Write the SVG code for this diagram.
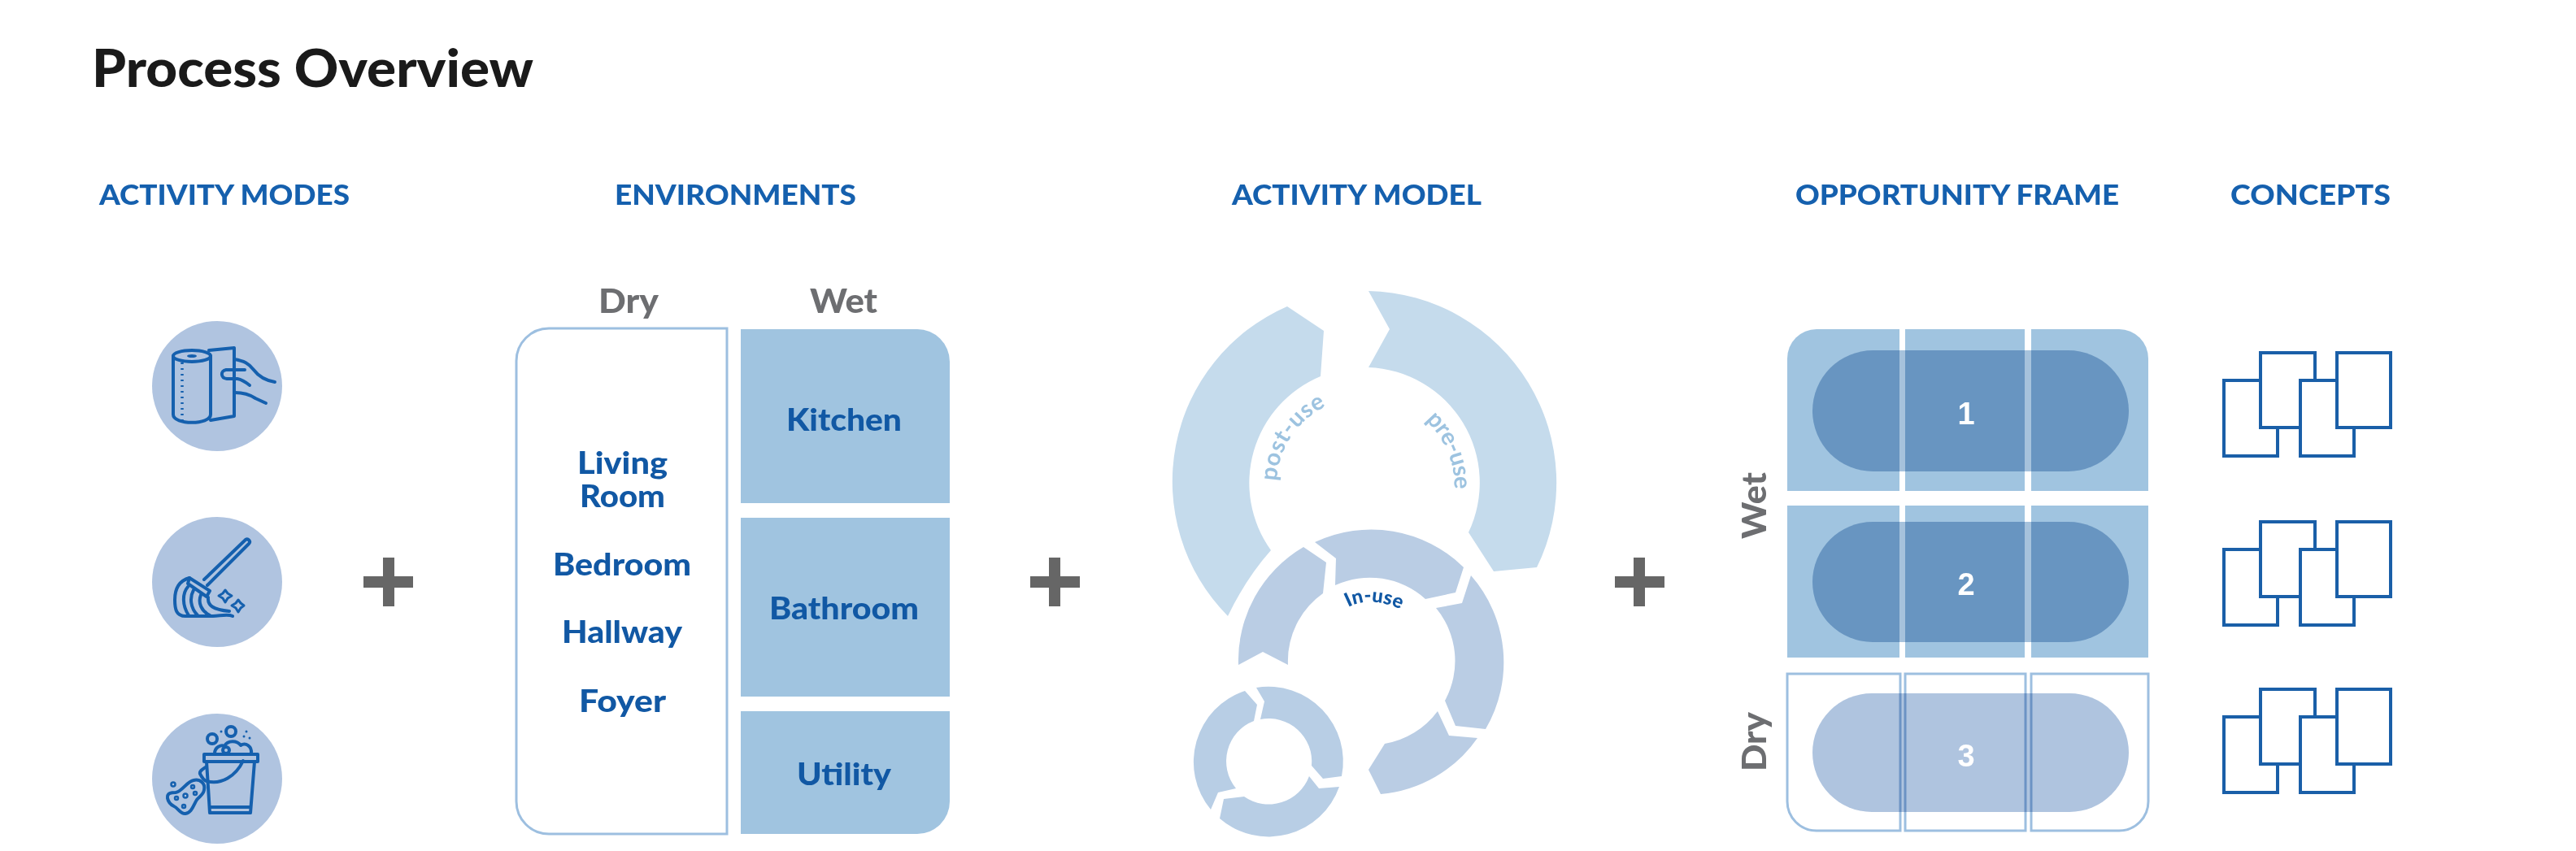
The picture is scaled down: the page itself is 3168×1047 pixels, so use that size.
<svg xmlns="http://www.w3.org/2000/svg" width="3168" height="1047" viewBox="0 0 3168 1047">
<style>
text{font-family:"Lato","Open Sans","Liberation Sans",sans-serif;font-weight:900}
.title{font-size:65px;fill:#1a1a1a}
.hd{font-size:35px;fill:#1560ae}
.gr{font-size:41px;fill:#6d6e71}
.lb{font-size:38px;fill:#1158a4}
.num{font-size:38px;fill:#fff;text-anchor:middle;font-family:"Liberation Sans",sans-serif;font-weight:700}
.dot{fill:#b0c4e0}
.ic{fill:none;stroke:#1560ae;stroke-width:4;stroke-linecap:round;stroke-linejoin:round}
.thin{stroke-width:2.5}
.icf{fill:#1560ae}
.plus{fill:#666}
.wet{fill:#a0c4e0}
.dry{fill:#fff;stroke:#9dbfe0;stroke-width:3}
.pill{fill:#afc4df;mix-blend-mode:multiply}
.pillw{fill:#a6c2dc;mix-blend-mode:multiply}
.big{fill:#c5dbec}
.mid{fill:#bacde4}
.sm{fill:#b8cee5}
.cp{fill:#fff;stroke:#1a5fa8;stroke-width:4}
</style>
<defs>
<g id="concept">
<rect class="cp" x="2735" y="468" width="66" height="93"/>
<rect class="cp" x="2780" y="434" width="67" height="92"/>
<rect class="cp" x="2829" y="468" width="66" height="93"/>
<rect class="cp" x="2874" y="434" width="66" height="92"/>
</g>
<path id="p-post" d="M1570,592 A108,108 0 0 1 1678,489"/>
<path id="p-pre" d="M1753,517 A110,110 0 0 1 1788,610"/>
<path id="p-in" d="M1658,747 Q1686,732 1728,752"/>
</defs>

<g id="title"><text class="title" x="113" y="107" textLength="543" lengthAdjust="spacingAndGlyphs">Process Overview</text></g>

<g id="headers">
<text class="hd" x="122" y="252" textLength="308" lengthAdjust="spacingAndGlyphs">ACTIVITY MODES</text>
<text class="hd" x="756" y="252" textLength="297" lengthAdjust="spacingAndGlyphs">ENVIRONMENTS</text>
<text class="hd" x="1515" y="252" textLength="307" lengthAdjust="spacingAndGlyphs">ACTIVITY MODEL</text>
<text class="hd" x="2208" y="252" textLength="398" lengthAdjust="spacingAndGlyphs">OPPORTUNITY FRAME</text>
<text class="hd" x="2743" y="252" textLength="197" lengthAdjust="spacingAndGlyphs">CONCEPTS</text>
</g>

<g id="mode-wipe">
<circle class="dot" cx="267" cy="475" r="80"/>
<ellipse class="ic" cx="236" cy="438" rx="23" ry="7"/>
<ellipse class="icf" cx="236" cy="438" rx="6" ry="2"/>
<path class="ic" d="M213,438V510C213,523 259,523 259,510V438"/>
<path class="ic" d="M257,431L288,428V512L259,517"/>
<path class="ic" stroke-dasharray="2 5" d="M224,446V518" style="stroke-width:3.5;stroke-linecap:butt"/>
<path class="ic" d="M288,442C300,444 306,447 312,455C318,463 326,468 338,470"/>
<path class="ic" d="M301,455H278C271,456 271,465 279,466H292C298,467 302,470 307,474"/>
<path class="ic" d="M289,483C300,483 308,486 314,490L327,496"/>
</g>

<g id="mode-mop">
<circle class="dot" cx="267" cy="716" r="80"/>
<path class="ic" d="M251,713L302,664C305,662 309,666 306,669L255,720"/>
<path class="ic" d="M233,711L258,727L254,734L231,718Z"/>
<path class="ic" d="M233,711C222,714 215,722 215,738C215,750 217,758 228,758H262C270,758 280,755 286,758"/>
<path class="ic" d="M231,722C224,730 224,745 232,757M238,726C233,735 234,748 243,757M247,732C243,742 248,752 258,757M256,735C255,745 262,750 282,752"/>
<path class="ic" style="stroke-width:3" d="M277,726L280,730L285,733L280,736L277,741L274,736L269,733L274,730Z"/>
<path class="ic" style="stroke-width:3" d="M293,738L296,742L300,745L296,748L293,753L290,748L285,745L290,742Z"/>
</g>

<g id="mode-bucket">
<circle class="dot" cx="267" cy="958" r="80"/>
<path class="ic" d="M251,928H317V937H251Z"/>
<path class="ic" d="M254,937L258,1000H308L313,937"/>
<path class="ic" d="M258,993H308"/>
<path class="ic" d="M254,943C250,946 245,948 246,952C248,956 250,960 254,961C272,966 290,955 299,936"/>
<path class="ic" d="M264,927C264,919 272,916 276,918C280,910 292,911 296,917C302,913 310,918 309,927"/>
<circle class="ic" cx="261" cy="909" r="6"/>
<circle class="ic" cx="284" cy="900" r="6"/>
<circle class="ic" cx="278" cy="923" r="4"/>
<circle class="icf" cx="272" cy="900" r="1.5"/><circle class="icf" cx="303" cy="900" r="1.5"/><circle class="icf" cx="300" cy="906" r="1.5"/><circle class="icf" cx="307" cy="908" r="1.5"/>
<path class="ic" d="M206,982C205,975 212,975 216,975C224,974 229,962 238,960C246,958 253,964 251,972C250,978 245,980 242,984C238,990 236,1000 228,1001C222,1002 219,994 214,992C210,990 207,987 206,982Z"/>
<circle class="ic thin" cx="213" cy="965" r="2.5"/>
<circle class="ic thin" cx="228" cy="979" r="2.5"/><circle class="ic thin" cx="237" cy="968" r="2"/><circle class="ic thin" cx="240" cy="976" r="2"/><circle class="ic thin" cx="217" cy="982" r="2"/><circle class="ic thin" cx="226" cy="992" r="2"/>
</g>

<g id="plus-1"><path class="plus" d="M471,686H485V709H508V723H485V746H471V723H447V709H471Z"/></g>
<g id="plus-2"><path class="plus" d="M1290,686H1304V709H1328V723H1304V746H1290V723H1267V709H1290Z"/></g>
<g id="plus-3"><path class="plus" d="M2009,686H2023V709H2047V723H2023V746H2009V723H1986V709H2009Z"/></g>

<g id="env-dry">
<text class="gr" x="736" y="385" textLength="74" lengthAdjust="spacingAndGlyphs">Dry</text>
<path class="dry" d="M894,404V1026H675A40,40 0 0 1 635,986V444A40,40 0 0 1 675,404Z"/>
<text class="lb" x="710" y="583" textLength="111" lengthAdjust="spacingAndGlyphs">Living</text>
<text class="lb" x="713" y="624" textLength="105" lengthAdjust="spacingAndGlyphs">Room</text>
<text class="lb" x="680" y="708" textLength="170" lengthAdjust="spacingAndGlyphs">Bedroom</text>
<text class="lb" x="691" y="791" textLength="148" lengthAdjust="spacingAndGlyphs">Hallway</text>
<text class="lb" x="712" y="876" textLength="107" lengthAdjust="spacingAndGlyphs">Foyer</text>
</g>
<g id="env-wet">
<text class="gr" x="996" y="385" textLength="83" lengthAdjust="spacingAndGlyphs">Wet</text>
<path class="wet" d="M911,405H1128A40,40 0 0 1 1168,445V619H911Z"/>
<rect class="wet" x="911" y="637" width="257" height="220"/>
<path class="wet" d="M911,875H1168V986A40,40 0 0 1 1128,1026H911Z"/>
<text class="lb" x="967" y="530" textLength="142" lengthAdjust="spacingAndGlyphs">Kitchen</text>
<text class="lb" x="946" y="762" textLength="184" lengthAdjust="spacingAndGlyphs">Bathroom</text>
<text class="lb" x="980" y="966" textLength="116" lengthAdjust="spacingAndGlyphs">Utility</text>
</g>

<g id="model-large">
<path class="big" d="M1583,377L1628,407L1624,463A142,142 0 0 0 1563,677Q1532,712 1510,758A235,235 0 0 1 1583,377Z"/>
<path class="big" d="M1683,358A236,236 0 0 1 1890,698L1837,703L1806,655A142,142 0 0 0 1683,452L1709,405Z"/>
<text font-size="29" fill="#9dc3e0" letter-spacing="0.5" style="font-weight:700"><textPath href="#p-post">post-use</textPath></text>
<text font-size="29" fill="#9dc3e0" letter-spacing="-0.5" style="font-weight:700"><textPath href="#p-pre">pre-use</textPath></text>
</g>
<g id="model-medium">
<path class="mid" d="M1617,667A162,162 0 0 1 1800,698L1790,729L1753,737A102,102 0 0 0 1642,720L1643,687Z"/>
<path class="mid" d="M1603,673L1631,692L1627,730A102,102 0 0 0 1584,818L1553,802L1523,818A162,162 0 0 1 1603,673Z"/>
<path class="mid" d="M1809,708A162,162 0 0 1 1827,897L1790,893L1777,862A102,102 0 0 0 1766,748L1798,742Z"/>
<path class="mid" d="M1768,875L1782,905L1817,908A162,162 0 0 1 1698,977L1683,947L1703,915A102,102 0 0 0 1768,875Z"/>
<text font-size="24" fill="#1158a4"><textPath href="#p-in">In-use</textPath></text>
</g>
<g id="model-small">
<path class="sm" d="M1545,846A92,92 0 0 1 1650,955L1627,958L1613,942A53,53 0 0 0 1550,885L1555,863Z"/>
<path class="sm" d="M1531,850L1546,867L1542,887A53,53 0 0 0 1520,970L1498,975L1489,996A92,92 0 0 1 1531,850Z"/>
<path class="sm" d="M1610,955L1622,970L1647,968A92,92 0 0 1 1500,1007L1505,983L1530,980A53,53 0 0 0 1610,955Z"/>
</g>

<g id="frame-wet">
<text class="gr" transform="translate(2172,663) rotate(-90)" textLength="82" lengthAdjust="spacingAndGlyphs">Wet</text>
<path class="wet" d="M2198,441A36,36 0 0 1 2234,405H2336V604H2198Z"/>
<rect class="wet" x="2343" y="405" width="147" height="199"/>
<path class="wet" d="M2498,405H2606A36,36 0 0 1 2642,441V604H2498Z"/>
<rect class="wet" x="2198" y="622" width="138" height="187"/>
<rect class="wet" x="2343" y="622" width="147" height="187"/>
<rect class="wet" x="2498" y="622" width="144" height="187"/>
<rect class="pillw" x="2229" y="431" width="389" height="149" rx="74.5"/>
<rect class="pillw" x="2229" y="642" width="389" height="148" rx="74"/>
<text class="num" x="2418" y="522">1</text>
<text class="num" x="2418" y="732">2</text>
</g>
<g id="frame-dry">
<text class="gr" transform="translate(2172,949) rotate(-90)" textLength="73" lengthAdjust="spacingAndGlyphs">Dry</text>
<path class="dry" d="M2198,829H2337V1022H2234A36,36 0 0 1 2198,986Z"/>
<rect class="dry" x="2343" y="829" width="148" height="193"/>
<path class="dry" d="M2498,829H2642V986A36,36 0 0 1 2606,1022H2498Z"/>
<rect class="pill" x="2229" y="853" width="389" height="146" rx="73"/>
<text class="num" x="2418" y="943">3</text>
</g>

<g id="concepts-1"><use href="#concept"/></g>
<g id="concepts-2"><use href="#concept" y="208"/></g>
<g id="concepts-3"><use href="#concept" y="414"/></g>
</svg>
